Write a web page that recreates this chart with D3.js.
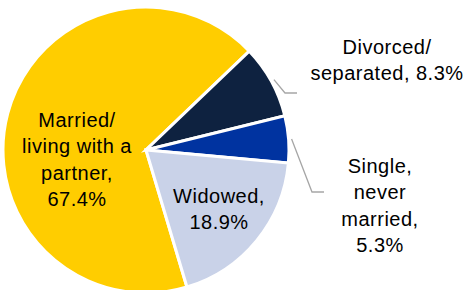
<!DOCTYPE html>
<html>
<head>
<meta charset="utf-8">
<script src="https://cdn.jsdelivr.net/npm/d3@7"></script>
<style>
  body { margin: 0; background: #fff; }
  svg { display: block; }
</style>
</head>
<body>
<div id="chart-area"></div>
<script>
// DATA
const categories = ["Married/living with a partner", "Divorced/separated", "Single, never married", "Widowed"];
const values = [67.4, 8.3, 5.3, 18.9];
const labelLines = [
    ["Married/", "living with a", "partner,", "67.4%"],
    ["Divorced/", "separated, 8.3%"],
    ["Single,", "never", "married,", "5.3%"],
    ["Widowed,", "18.9%"]
];
const colors = ["#FFCD00", "#0E2240", "#0033A0", "#C9D2E8"];

const width = 469, height = 290;
const cx = 146, cy = 150, radius = 143;

const svg = d3.select("#chart-area")
    .append("svg")
    .attr("width", width)
    .attr("height", height);

const g = svg.append("g")
    .attr("transform", "translate(" + cx + ", " + cy + ")");

// married slice ends at ~46deg from 12 o'clock
const startDeg = 46 - values[0] / 100 * 360;
const pie = d3.pie()
    .sort(null)
    .value(function (d) { return d; })
    .startAngle(startDeg * Math.PI / 180)
    .endAngle((startDeg + 360) * Math.PI / 180);

const arc = d3.arc().innerRadius(0).outerRadius(radius);
const arcs = pie(values);

g.selectAll("path.slice")
    .data(arcs)
    .enter()
    .append("path")
    .attr("class", "slice")
    .attr("d", arc)
    .attr("fill", function (d, i) { return colors[i]; })
    .attr("stroke", "#fff")
    .attr("stroke-width", 3)
    .attr("stroke-linejoin", "miter");

// label positions (relative to pie centre)
const labelPos = [
    { x: -69, y: -23 },
    { x: 241, y: -96 },
    { x: 234, y: 23 },
    { x: 73, y: 53 }
];
const lineH = 26.3;

labelPos.forEach(function (p, i) {
    const t = g.append("text")
        .attr("text-anchor", "middle")
        .attr("font-family", "'Liberation Sans', Arial, sans-serif")
        .attr("font-size", "20px")
        .attr("letter-spacing", "0.5px")
        .attr("fill", "#000");
    labelLines[i].forEach(function (line, j) {
        t.append("tspan")
            .attr("x", p.x)
            .attr("y", p.y + j * lineH)
            .text(line);
    });
});

// leader lines for the two small slices
const leaders = [
    { i: 1, elbow: [139, -57], end: [151, -57] },
    { i: 2, elbow: [166, 42], end: [178, 42] }
];
leaders.forEach(function (l) {
    const a = arcs[l.i];
    const mid = (a.startAngle + a.endAngle) / 2;
    const r0 = radius + 3;
    const start = [Math.sin(mid) * r0, -Math.cos(mid) * r0];
    g.append("polyline")
        .attr("points", [start, l.elbow, l.end].map(function (p) { return p.join(","); }).join(" "))
        .attr("fill", "none")
        .attr("stroke", "#A6A6A6")
        .attr("stroke-width", 1.3);
});
</script>
</body>
</html>
